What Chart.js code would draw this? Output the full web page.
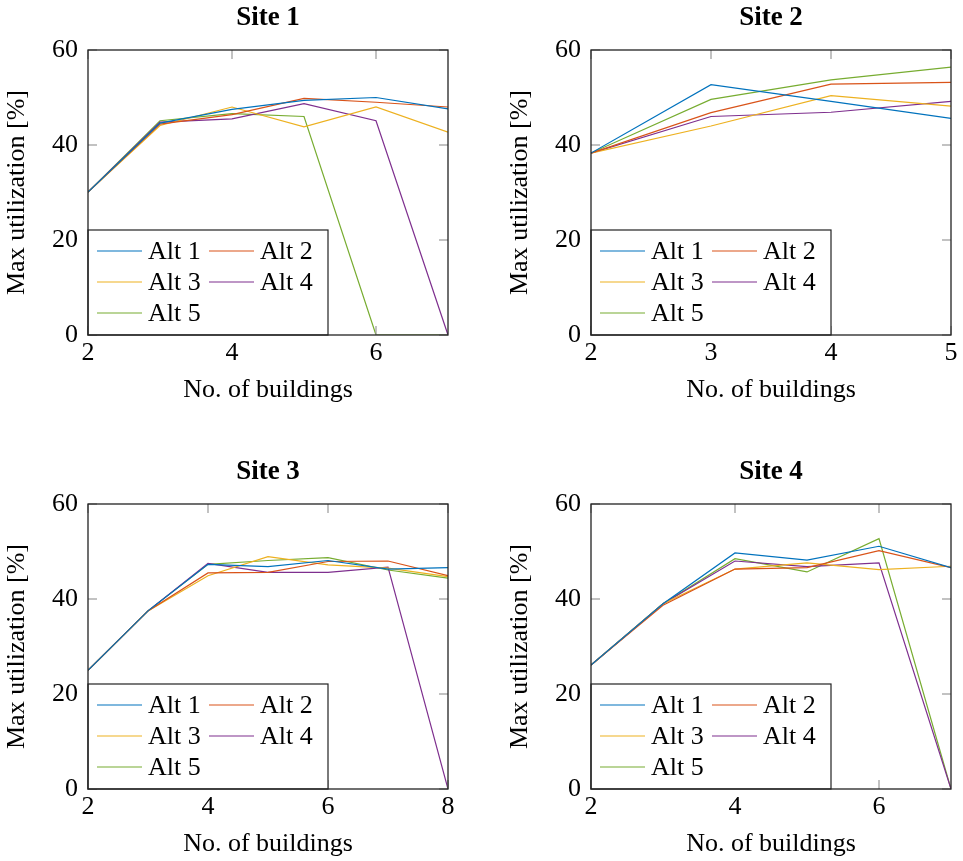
<!DOCTYPE html>
<html>
<head>
<meta charset="utf-8">
<script src="https://cdn.jsdelivr.net/npm/chart.js@4.4.0/dist/chart.umd.min.js"></script>
<style>
  body { margin: 0; background: #fff; }
  canvas { position: absolute; }
</style>
</head>
<body>
<canvas id="c1" width="460" height="420" style="left:0;top:0"></canvas>
<canvas id="c2" width="460" height="420" style="left:503px;top:0"></canvas>
<canvas id="c3" width="460" height="420" style="left:0;top:454px"></canvas>
<canvas id="c4" width="460" height="420" style="left:503px;top:454px"></canvas>
<script>
// data
const labels = ['Alt 1', 'Alt 2', 'Alt 3', 'Alt 4', 'Alt 5'];
const colors = ['#0072BD', '#D95319', '#EDB120', '#7E2F8E', '#77AC30'];

const site1X = [2, 3, 4, 5, 6, 7];
const site1Alt1 = [30.1, 44.6, 47.5, 49.4, 50.0, 47.6];
const site1Alt2 = [30.1, 44.4, 46.4, 49.8, 49.0, 48.0];
const site1Alt3 = [30.1, 44.1, 48.0, 43.8, 48.0, 42.7];
const site1Alt4 = [30.1, 44.8, 45.5, 48.7, 45.1, 0];
const site1Alt5 = [30.1, 45.1, 46.6, 46.0, 0, 0];

const site2X = [2, 3, 4, 5];
const site2Alt1 = [38.3, 52.7, 49.2, 45.6];
const site2Alt2 = [38.3, 46.8, 52.8, 53.2];
const site2Alt3 = [38.3, 44.0, 50.4, 48.2];
const site2Alt4 = [38.3, 46.0, 46.9, 49.2];
const site2Alt5 = [38.3, 49.6, 53.7, 56.4];

const site3X = [2, 3, 4, 5, 6, 7, 8];
const site3Alt1 = [25.0, 37.5, 47.3, 46.8, 48.1, 46.3, 46.6];
const site3Alt2 = [25.0, 37.5, 45.5, 45.6, 47.9, 48.0, 44.9];
const site3Alt3 = [25.0, 37.5, 44.9, 48.9, 47.2, 46.5, 44.7];
const site3Alt4 = [25.0, 37.5, 47.5, 45.6, 45.6, 46.7, 0];
const site3Alt5 = [25.0, 37.5, 47.3, 48.1, 48.7, 46.1, 44.4];

const site4X = [2, 3, 4, 5, 6, 7];
const site4Alt1 = [26.1, 39.0, 49.7, 48.2, 51.1, 46.6];
const site4Alt2 = [26.1, 38.7, 46.3, 46.6, 50.2, 46.6];
const site4Alt3 = [26.1, 39.0, 46.3, 47.6, 46.2, 46.9];
const site4Alt4 = [26.1, 39.0, 48.0, 46.8, 47.6, 0];
const site4Alt5 = [26.1, 39.0, 48.5, 45.7, 52.7, 0];

const yTicks = [0, 20, 40, 60];

const FONT = '"Liberation Serif", serif';
Chart.defaults.font.family = FONT;
Chart.defaults.font.size = 26;
Chart.defaults.color = '#000';

// tick marks inside the box, legend in the lower left corner, frame
const frame = {
  id: 'frame',
  afterDatasetsDraw(chart) {
    const {ctx, chartArea: a, scales} = chart;
    const seg = (x1, y1, x2, y2) => { ctx.beginPath(); ctx.moveTo(x1, y1); ctx.lineTo(x2, y2); ctx.stroke(); };
    ctx.save();
    ctx.strokeStyle = '#999';
    ctx.lineWidth = 1.2;
    scales.x.ticks.forEach(t => {
      const px = scales.x.getPixelForValue(t.value);
      seg(px, a.top, px, a.top + 9);
      seg(px, a.bottom, px, a.bottom - 9);
    });
    scales.y.ticks.forEach(t => {
      const py = scales.y.getPixelForValue(t.value);
      seg(a.left, py, a.left + 9, py);
      seg(a.right, py, a.right - 9, py);
    });

    // legend
    const lw = 240, lh = 105;
    const lx = a.left, ly = a.bottom - lh;
    ctx.fillStyle = '#fff';
    ctx.fillRect(lx, ly, lw, lh);
    ctx.strokeStyle = '#222';
    ctx.lineWidth = 1.2;
    ctx.strokeRect(lx, ly, lw, lh);
    ctx.font = '26px ' + FONT;
    ctx.textBaseline = 'middle';
    ctx.textAlign = 'left';
    chart.data.datasets.forEach((ds, i) => {
      const col = i % 2, row = Math.floor(i / 2);
      const x0 = lx + 9 + col * 112;
      const y0 = ly + 21 + row * 31;
      ctx.strokeStyle = ds.borderColor;
      ctx.lineWidth = 1.2;
      seg(x0, y0, x0 + 45, y0);
      ctx.fillStyle = '#000';
      ctx.fillText(ds.label, x0 + 51, y0 + 1);
    });

    ctx.strokeStyle = '#222';
    ctx.lineWidth = 1.3;
    ctx.strokeRect(a.left, a.top, a.right - a.left, a.bottom - a.top);
    ctx.restore();
  }
};

function makeChart(id, title, xs, series, xMax, xStep) {
  new Chart(document.getElementById(id), {
    type: 'line',
    data: {
      datasets: series.map((ys, i) => ({
        label: labels[i],
        data: xs.map((x, k) => ({x: x, y: ys[k]})),
        borderColor: colors[i],
        backgroundColor: colors[i],
        borderWidth: 1.2,
        pointRadius: 0,
        tension: 0,
        fill: false
      }))
    },
    options: {
      responsive: false,
      animation: false,
      layout: {padding: {left: 0, right: 12, top: 0, bottom: 0}},
      plugins: {
        legend: {display: false},
        tooltip: {enabled: false},
        title: {
          display: true,
          text: title,
          fullSize: false,
          color: '#000',
          font: {size: 27, weight: 'bold'},
          padding: {top: 2, bottom: 15.6}
        }
      },
      scales: {
        x: {
          type: 'linear',
          min: 2,
          max: xMax,
          grid: {display: false, drawTicks: false},
          border: {display: false},
          ticks: {stepSize: xStep, includeBounds: false, padding: 3, color: '#000', maxRotation: 0},
          title: {display: true, text: 'No. of buildings', color: '#000', padding: {top: 0, bottom: 14.4}},
          afterFit(s) { s.height = 85; }
        },
        y: {
          min: yTicks[0],
          max: yTicks[yTicks.length - 1],
          grid: {display: false, drawTicks: false},
          border: {display: false},
          ticks: {stepSize: 20, padding: 10, color: '#000'},
          title: {display: true, text: 'Max utilization [%]', color: '#000', padding: {top: 1.4, bottom: 0}},
          afterFit(s) { s.width = 88; }
        }
      }
    },
    plugins: [frame]
  });
}

makeChart('c1', 'Site 1', site1X, [site1Alt1, site1Alt2, site1Alt3, site1Alt4, site1Alt5], 7, 2);
makeChart('c2', 'Site 2', site2X, [site2Alt1, site2Alt2, site2Alt3, site2Alt4, site2Alt5], 5, 1);
makeChart('c3', 'Site 3', site3X, [site3Alt1, site3Alt2, site3Alt3, site3Alt4, site3Alt5], 8, 2);
makeChart('c4', 'Site 4', site4X, [site4Alt1, site4Alt2, site4Alt3, site4Alt4, site4Alt5], 7, 2);
</script>
</body>
</html>
